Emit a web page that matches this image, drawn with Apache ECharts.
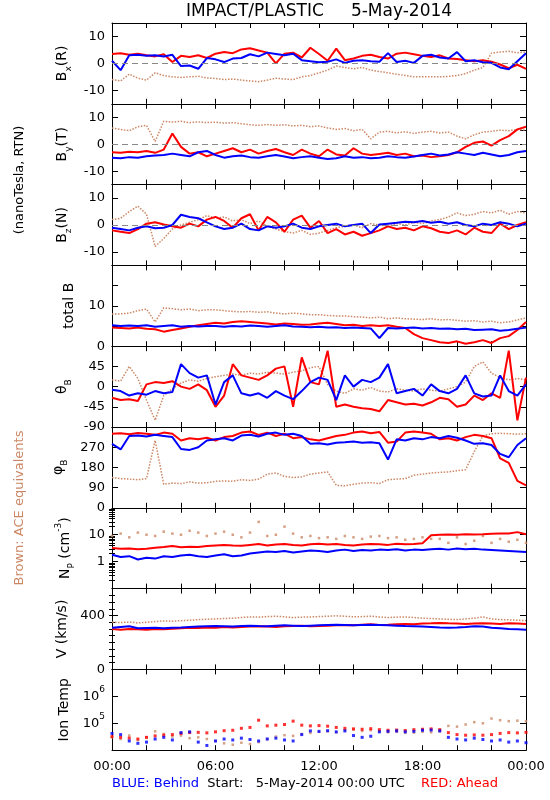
<!DOCTYPE html>
<html><head><meta charset="utf-8">
<script src="https://cdn.jsdelivr.net/npm/echarts@6/dist/echarts.min.js"></script>
<style>html,body{margin:0;padding:0;background:#fff}#c{width:550px;height:800px}</style>
</head><body><div id="c"></div>
<script>
// sample times (hours since 00:00 UTC), every 30 min
const hours = []; for (let i = 0; i <= 48; i++) hours.push(i / 2);
const xTickLabels = ['00:00', '06:00', '12:00', '18:00', '00:00'];
const xTickHours = [0, 6, 12, 18, 24];

// Bx (R)
const bxRed = [3.5,3.8,3.2,3.6,3.0,2.6,3.4,0.5,2.8,2.4, 3.0,2.0,3.6,4.2,3.8,5.2,5.6,4.8,4.0,0.0, 3.6,4.0,2.2,5.8,3.5,1.0,5.5,1.2,1.8,2.8, 3.2,2.4,1.8,3.6,4.0,3.4,2.8,2.4,3.0,1.8, 1.6,1.2,0.8,1.2,0.6,-0.4,-1.8,-0.5,-2.0];
const bxBlue = [1.0,-2.5,3.0,3.2,2.8,3.0,2.6,3.2,-1.0,-0.8, -2.0,2.0,1.5,0.5,1.8,2.0,3.4,2.6,4.0,3.5, 3.0,3.6,1.2,0.8,0.4,0.6,1.5,0.2,1.0,1.2, 0.8,0.6,3.8,0.5,1.0,0.2,2.8,3.2,2.2,1.8, 4.2,0.8,1.2,0.4,0.2,-1.5,-2.2,0.8,3.8];
const bxAce = [-6,-6.5,-4,-5.5,-6.2,-3.5,-4.5,-5.0,-5.2,-5.0, -4.8,-5.4,-5.6,-6.0,-5.8,-6.2,-6.5,-6.8,-6.2,-5.5, -5.8,-6.0,-5.0,-4.5,-3.5,-2.5,-1.0,-1.5,-2.0,-1.5, -2.5,-3.0,-3.5,-4.0,-4.5,-5.0,-5.0,-5.0,-5.0,-4.8, -4.5,-3.8,-2.5,-1.5,3.8,4.2,4.5,4.0,4.2];
// By (T)
const byRed = [-3,-3.2,-2.8,-3,-2.5,-3.2,-2.0,4.0,-1.0,-3.5, -3.0,-4.5,-3.5,-2.5,-1.5,-3.0,-2.0,-3.5,-2.5,-1.8, -3.0,-4.0,-2.0,-3.5,-4.5,-2.0,-3.8,-4.2,-1.5,-3.5, -4.0,-3.6,-3.2,-4.0,-3.5,-4.5,-4.2,-4.8,-4.5,-4.0, -3.0,-1.0,0.5,1.0,-0.5,1.5,3.0,5.5,6.5];
const byBlue = [-5,-5.2,-4.8,-5.0,-4.5,-4.2,-4.0,-3.5,-4.0,-4.5, -3.0,-2.5,-4.0,-5.0,-4.5,-4.2,-4.8,-5.0,-4.5,-4.0, -4.6,-5.2,-4.8,-4.5,-5.0,-5.5,-5.2,-4.5,-5.0,-4.8, -5.2,-5.0,-4.5,-4.8,-5.0,-4.6,-4.0,-3.5,-4.2,-3.8, -3.0,-3.5,-4.0,-3.2,-3.8,-4.5,-4.0,-3.0,-2.5];
const byAce = [6,5.5,5,6.5,7,1,8.5,8.2,8.5,8.0, 8.3,8.0,8.2,7.8,8.0,7.6,7.2,7.0,7.3,7.0, 7.2,6.8,7.0,6.5,6.8,6.0,5.5,5.8,5.0,5.5, 2.0,4.5,4.8,4.2,4.6,4.0,4.5,4.8,4.2,4.5, 3.0,2.0,3.5,4.5,4.8,5.2,5.0,5.5,5.2];
// Bz (N)
const bzRed = [-2,-2.5,-3,-1.5,0.5,1.0,0.2,-0.5,-1.0,0.5, -0.5,2.0,3.0,1.5,-1.0,2.5,4.0,-2.0,3.0,1.0, -2.5,2.0,3.5,-1.0,1.5,-3.0,-1.5,-3.5,-2.5,-4.0, -3.0,-2.0,-0.5,-1.5,-1.0,-2.0,-0.5,-1.2,-2.5,-3.0, -2.0,-3.5,-1.0,-2.5,-3.0,0.5,-1.5,0.0,1.0];
const bzBlue = [-1,-1.5,-2,-1,-0.5,-1.2,-1.0,0.0,3.8,3.0, 2.5,1.0,-0.5,-1.5,-1.0,0.5,-1.5,-2.0,-0.5,-1.0, -0.5,0.5,-1.0,-1.5,-0.5,0.0,0.5,-0.5,0.0,0.5, -3.0,0.2,0.5,0.8,1.2,1.0,1.5,0.8,1.2,0.5, 1.0,0.0,-0.5,0.5,0.0,1.0,0.5,-0.5,0.5];
const bzAce = [2,2.5,5,7,4,-8,-5,-1.5,0,1, 2,3.5,2.5,3.0,1.5,2.0,0.5,1.5,-0.5,-1.5, -2.5,-3.0,-2.0,-3.5,-3.0,-2.0,-1.0,-0.5,0.0,-1.0, 0.5,0.0,-0.5,0.5,0.0,1.0,0.5,1.5,2.0,3.0, 4.5,3.5,4.0,5.0,4.5,5.5,4.0,5.0,4.5];
// total B
const btRed = [4.6,4.5,4.4,4.6,4.3,4.2,3.6,4.0,4.4,4.8, 5.2,5.5,5.8,5.6,6.0,6.2,6.0,5.8,5.6,5.4, 5.6,5.5,5.3,5.4,5.6,5.8,5.5,5.2,5.3,5.0, 5.2,5.0,5.2,4.8,4.5,3.0,2.0,1.5,1.0,0.8, 1.2,0.6,1.0,1.5,0.8,2.0,2.5,4.0,6.0];
const btBlue = [5.2,5.0,5.1,5.0,5.2,4.8,5.0,5.2,4.8,5.0, 4.9,5.0,5.0,4.8,5.0,4.9,5.1,5.0,4.8,5.0, 5.2,4.9,4.8,4.7,4.8,4.6,4.7,4.5,4.6,4.5, 4.4,2.0,4.5,4.4,4.5,4.6,4.4,4.5,4.3,4.4, 4.2,4.3,4.0,4.1,4.2,3.8,4.0,4.3,4.6];
const btAce = [8,8,8.2,8.8,9.2,6.0,9.5,9.3,9.0,9.2, 8.8,9.0,9.0,8.8,8.6,8.5,8.6,8.4,8.5,8.2, 8.0,8.2,8.0,7.8,7.8,7.6,7.5,7.5,7.3,7.2, 7.0,7.2,6.8,7.0,6.8,6.7,6.6,6.8,6.5,6.6, 6.4,6.2,6.3,6.0,6.2,5.8,6.0,6.5,7.0];
// theta B
const thRed = [-25,-30,-28,-32,5,10,8,12,0,-5, 5,-8,-45,-20,50,25,20,15,25,40, 45,-45,65,10,5,80,-45,-40,-45,-48, -50,-55,-30,-35,-40,-38,-42,-35,-25,-28, -45,-40,-20,-30,-15,-25,80,-75,20];
const thBlue = [-7,-10,-20,-15,-18,-10,-15,-12,50,30, 20,25,-40,10,25,-15,-20,-15,-25,-10, -20,-28,-10,10,20,15,-30,25,0,15, 10,20,50,-15,-10,-5,-20,5,-10,-15, -5,25,-15,-22,-20,25,-10,-20,5];
const thAce = [15,12,45,18,-30,-75,-20,-5,8,15, 12,18,22,25,28,25,30,28,32,30, 28,32,35,42,45,5,-10,-15,-5,-8, -2,-10,-12,-5,-8,-10,-5,-8,-10,-5, 0,10,45,55,30,20,15,18,15];
// phi B
const phRed = [330,332,328,333,330,325,335,330,300,310, 305,312,300,315,320,335,340,325,335,320, 330,310,315,305,300,310,320,325,335,340, 332,338,290,295,335,340,335,330,305,310, 300,315,325,320,310,220,200,120,100];
const phBlue = [285,260,320,322,318,325,320,315,262,258, 270,300,305,310,300,322,325,318,330,335, 325,330,320,285,288,282,290,292,295,290, 292,288,215,305,300,310,305,315,310,320, 312,300,285,288,280,240,225,280,310];
const phAce = [135,130,128,125,130,300,105,110,108,115, 110,112,118,120,118,125,122,128,150,155, 140,135,138,150,155,160,100,98,105,110, 112,108,125,128,130,145,150,155,158,160, 165,170,250,320,330,332,330,328,330];
// Np (cm^-3)
const npRed = [3.2,3.0,3.1,2.9,3.0,3.3,3.5,3.8,3.4,3.6, 3.5,3.8,4.0,4.2,4.0,3.9,4.2,4.5,4.0,4.3, 4.5,4.2,4.0,4.4,4.6,4.3,4.5,4.2,4.0,4.3, 4.5,4.4,4.2,4.6,4.4,4.5,4.8,9.5,10.0,10.2, 10.0,10.5,10.3,10.5,10.8,11.0,11.2,12.5,10.5];
const npBlue = [1.8,1.5,1.6,1.2,1.4,1.3,1.6,1.5,1.7,1.8, 1.6,1.5,1.7,1.9,1.6,1.7,2.0,2.2,2.4,2.3, 2.5,2.2,2.4,2.6,2.5,2.3,2.6,2.8,2.5,2.7, 2.6,2.8,2.7,2.9,2.6,2.8,2.7,2.9,3.0,2.8, 3.1,2.9,3.0,2.8,2.7,2.6,2.5,2.4,2.3];
const npAce = [9,11,8,12,10,9,13,11,10,14, 12,9,11,13,10,8,12,30,9,10, 20,11,8,9,7.5,8,7,9,8,7, 8.5,9,7.5,8,6.5,7,8,7,7,5, 8,4.5,6,9,5,7,5.5,6.5,5];
// V (km/s)
const vRed = [300,295,300,298,295,300,298,302,305,310, 308,312,310,315,312,315,318,320,318,315, 320,322,325,320,322,325,328,330,328,332, 335,330,332,335,338,335,340,342,345,342, 340,338,340,342,340,338,342,340,338];
const vBlue = [310,315,320,305,308,310,305,310,312,315, 318,320,322,320,318,322,325,322,320,325, 328,325,322,325,328,330,332,330,328,330, 332,330,328,325,322,320,318,315,312,310, 312,315,320,318,310,305,300,298,295];
const vAce = [350,348,352,345,350,355,360,358,362,365, 370,372,375,378,380,385,390,388,392,395, 390,385,388,390,392,395,398,395,390,392, 395,390,385,388,390,385,380,378,375,372, 370,375,380,390,375,370,368,365,362];
// Ion temperature (K)
const tiRed = [3.2e4,3.0e4,2.8e4,2.6e4,3.0e4,3.4e4,3.6e4,3.8e4,4.2e4,4.5e4, 4.6e4,4.4e4,4.8e4,5.3e4,5.5e4,6.5e4,7.0e4,1.3e5,8.0e4,8.5e4, 9.0e4,1.2e5,8.5e4,8.0e4,8.2e4,7.8e4,7.0e4,6.5e4,6.2e4,6.0e4, 6.3e4,5.8e4,5.5e4,5.6e4,5.4e4,5.8e4,6.0e4,6.2e4,5.8e4,4.5e4, 3.8e4,3.6e4,3.7e4,3.6e4,3.8e4,4.2e4,4.5e4,4.4e4,4.6e4];
const tiBlue = [4.2e4,3.8e4,2.2e4,1.8e4,2.0e4,2.6e4,3.0e4,2.4e4,4.5e4,4.8e4, 2.0e4,1.5e4,2.2e4,2.6e4,2.4e4,2.8e4,2.5e4,2.2e4,2.6e4,2.8e4, 2.4e4,2.2e4,3.8e4,5.2e4,5.0e4,5.3e4,4.8e4,5.2e4,3.5e4,3.0e4, 3.3e4,4.8e4,5.0e4,5.2e4,4.8e4,5.0e4,5.5e4,5.6e4,5.2e4,3.0e4, 2.6e4,2.4e4,2.8e4,2.5e4,2.2e4,2.4e4,2.0e4,2.2e4,1.9e4];
const tiAce = [3e4,2.6e4,3.5e4,2.4e4,3.0e4,5.0e4,4.0e4,3.2e4,3.5e4,2.8e4, 3.0e4,2.6e4,2.2e4,1.8e4,1.6e4,1.9e4,1.7e4,2.0e4,2.6e4,3.2e4, 3.6e4,3.4e4,4.0e4,4.4e4,4.8e4,5.0e4,4.6e4,5.5e4,5.8e4,5.2e4, 5.5e4,5.0e4,4.6e4,4.8e4,4.4e4,4.5e4,4.8e4,4.6e4,5.0e4,8.0e4, 7.5e4,9.0e4,1.1e5,1.0e5,1.5e5,1.3e5,1.2e5,1.25e5,1.2e5];

// tick value lists
const npMinorTicks = []; [0.1, 1, 10].forEach(d => { for (let k = 2; k <= 9; k++) npMinorTicks.push(d * k); });
const vMinorTicks = []; for (let v = 50; v < 600; v += 50) vMinorTicks.push(v);

const C = { red: '#ff0000', blue: '#0000ff', ace: '#cc8866' };
const FONT = 'DejaVu Sans';
const L = 112, R = 526, TOP = 23, PH = 80.8;

const supFmt = v => '10{sup|' + Math.round(Math.log10(v)) + '}';
const rich = {
  sub: { fontSize: 9, fontFamily: FONT, color: '#000', verticalAlign: 'bottom', lineHeight: 22 },
  sup: { fontSize: 9, fontFamily: FONT, color: '#000', verticalAlign: 'top', lineHeight: 22 }
};

const panels = [
  { name: 'B{sub|x}(R)', min: -15, max: 15, labels: [-10, 0, 10], lt: [-10, 0, 10], rt: [-10, -5, 0, 5, 10], zero: true, ace: bxAce, red: bxRed, blue: bxBlue },
  { name: 'B{sub|y}(T)', min: -15, max: 15, labels: [-10, 0, 10], lt: [-10, 0, 10], rt: [-10, -5, 0, 5, 10], zero: true, ace: byAce, red: byRed, blue: byBlue },
  { name: 'B{sub|z}(N)', min: -15, max: 15, labels: [-10, 0, 10], lt: [-10, 0, 10], rt: [-10, -5, 0, 5, 10], zero: true, ace: bzAce, red: bzRed, blue: bzBlue },
  { name: 'total B', min: 0, max: 20, labels: [0, 10], lt: [5, 10, 15], rt: [5, 10, 15], ace: btAce, red: btRed, blue: btBlue },
  { name: 'θ{sub|B}', min: -90, max: 90, labels: [-90, -45, 0, 45], lt: [-45, 0, 45], rt: [-45, 0, 45], ace: thAce, red: thRed, blue: thBlue },
  { name: 'φ{sub|B}', min: 0, max: 360, labels: [0, 90, 180, 270], lt: [90, 180, 270], rt: [90, 180, 270], ace: phAce, red: phRed, blue: phBlue },
  { name: 'N{sub|P} (cm{sup|-3})', log: true, min: 0.1, max: 100, labels: [1, 10], lt: [1, 10], rt: [1, 10], minor: npMinorTicks, aceDots: true, ace: npAce, red: npRed, blue: npBlue },
  { name: 'V (km/s)', min: 0, max: 600, labels: [0, 400], lt: [400], rt: [400], minor: vMinorTicks, ace: vAce, red: vRed, blue: vBlue },
  { name: 'Ion Temp', log: true, min: 1e4, max: 1e7, labels: [1e5, 1e6], lt: [1e5, 1e6], rt: [1e5, 1e6], fmt: supFmt, dots: true, aceDots: true, ace: tiAce, red: tiRed, blue: tiBlue }
];

const grid = [], xAxis = [], yAxis = [], series = [];
const black = { color: '#000', width: 1 };

panels.forEach((p, i) => {
  grid.push({ left: L, top: TOP + i * PH, width: R - L, height: PH });
  const xb = xAxis.length;
  ['bottom', 'top'].forEach(pos => {
    xAxis.push({
      gridIndex: i, type: 'value', min: 0, max: 24, interval: 2, position: pos,
      axisLine: { show: true, onZero: false, lineStyle: black },
      axisTick: { show: true, inside: true, length: 5, lineStyle: black },
      axisLabel: {
        show: pos === 'bottom' && i === panels.length - 1, customValues: xTickHours,
        formatter: v => xTickLabels[xTickHours.indexOf(v)], color: '#000',
        fontFamily: FONT, fontSize: 13, margin: 10
      },
      splitLine: { show: false }
    });
  });
  const yl = yAxis.length;
  const base = { gridIndex: i, type: p.log ? 'log' : 'value', logBase: 10, min: p.min, max: p.max, splitLine: { show: false } };
  yAxis.push(Object.assign({}, base, {
    position: 'left',
    axisLine: { show: true, onZero: false, lineStyle: black },
    axisTick: { show: true, inside: true, length: 6, customValues: p.lt, lineStyle: black },
    axisLabel: { show: true, customValues: p.labels, formatter: p.fmt || (v => String(v)), color: '#000', fontFamily: FONT, fontSize: 13, margin: 7, rich: rich },
    name: p.name, nameLocation: 'middle', nameRotate: 90, nameGap: 36,
    nameTextStyle: { color: '#000', fontFamily: FONT, fontSize: 14, rich: rich }
  }));
  yAxis.push(Object.assign({}, base, {
    position: 'right',
    axisLine: { show: true, onZero: false, lineStyle: black },
    axisTick: { show: true, inside: true, length: 6, customValues: p.rt, lineStyle: black },
    axisLabel: { show: false }
  }));
  if (p.minor) {
    ['left', 'right'].forEach(pos => {
      yAxis.push(Object.assign({}, base, {
        position: pos,
        axisLine: { show: false },
        axisTick: { show: true, inside: true, length: 3, customValues: p.minor, lineStyle: black },
        axisLabel: { show: false }
      }));
    });
  }
  const pts = arr => hours.map((h, k) => [h, arr[k]]);
  const aceSeries = p.aceDots
    ? { type: 'scatter', symbol: 'rect', symbolSize: 2.5, itemStyle: { color: C.ace } }
    : { type: 'line', showSymbol: false, lineStyle: { color: C.ace, width: 1.5, type: [1.5, 1.5] } };
  const aceS = Object.assign({ name: 'ACE', xAxisIndex: xb, yAxisIndex: yl, data: pts(p.ace), silent: true, z: 2 }, aceSeries);
  if (p.zero) {
    aceS.markLine = { silent: true, symbol: 'none', label: { show: false },
      lineStyle: { color: '#888', type: [6, 4], width: 1 }, data: [{ yAxis: 0 }] };
  }
  series.push(aceS);
  [['Ahead', C.red, p.red], ['Behind', C.blue, p.blue]].forEach(([nm, col, arr]) => {
    const s = { name: nm, xAxisIndex: xb, yAxisIndex: yl, data: pts(arr), silent: true, z: 3 };
    if (p.dots) Object.assign(s, { type: 'scatter', symbol: 'rect', symbolSize: 3, itemStyle: { color: col } });
    else Object.assign(s, { type: 'line', showSymbol: false, lineStyle: { color: col, width: 2 } });
    series.push(s);
  });
});

const chart = echarts.init(document.getElementById('c'), null, { renderer: 'canvas' });
chart.setOption({
  backgroundColor: '#fff',
  animation: false,
  grid, xAxis, yAxis, series,
  graphic: [
    { type: 'text', x: (L + R) / 2, y: 12, style: { text: 'IMPACT/PLASTIC     5-May-2014', font: '17px "DejaVu Sans"', fill: '#000', textAlign: 'center', textVerticalAlign: 'middle' } },
    { type: 'text', x: 20, y: 180, rotation: Math.PI / 2, style: { text: '(nanoTesla, RTN)', font: '13px "DejaVu Sans"', fill: '#000', textAlign: 'center', textVerticalAlign: 'middle' } },
    { type: 'text', x: 20, y: 508, rotation: Math.PI / 2, style: { text: 'Brown: ACE equivalents', font: '13px "DejaVu Sans"', fill: C.ace, textAlign: 'center', textVerticalAlign: 'middle' } },
    { type: 'text', x: 112, y: 784, style: { text: 'BLUE: Behind', font: '13px "DejaVu Sans"', fill: C.blue, textAlign: 'left', textVerticalAlign: 'middle' } },
    { type: 'text', x: 306, y: 784, style: { text: 'Start:   5-May-2014 00:00 UTC', font: '13px "DejaVu Sans"', fill: '#000', textAlign: 'center', textVerticalAlign: 'middle' } },
    { type: 'text', x: 498, y: 784, style: { text: 'RED: Ahead', font: '13px "DejaVu Sans"', fill: C.red, textAlign: 'right', textVerticalAlign: 'middle' } }
  ]
});
</script></body></html>
